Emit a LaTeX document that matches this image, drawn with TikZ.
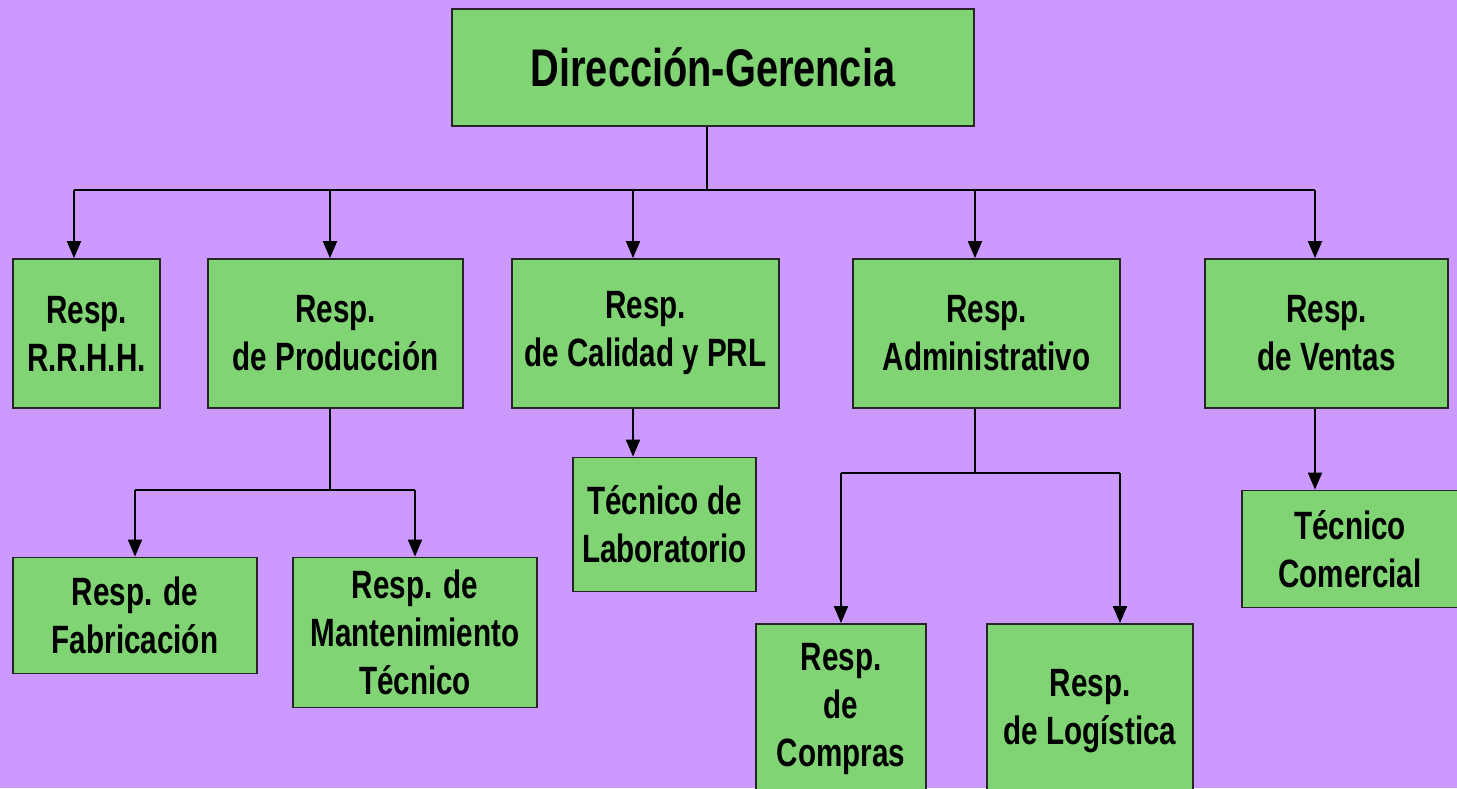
\documentclass[tikz,border=0pt]{standalone}
\usepackage{fontspec}
\setmainfont{Liberation Sans}[FakeStretch=0.75]
\usetikzlibrary{arrows.meta}
\definecolor{ccc99ff}{RGB}{204,153,255}
\definecolor{c80d474}{RGB}{128,212,116}
\tikzset{
  unit/.style={draw=black!85, fill=c80d474, line width=1.8pt, inner sep=0pt,
    align=center, font=\fontsize{39.5}{48}\selectfont\bfseries},
  link/.style={draw=black, line width=1.9pt},
  arr/.style={link, -{Triangle[length=17pt,width=14pt]}}
}

\begin{document}
\begin{tikzpicture}[x=1pt, y=-1pt]
  \useasboundingbox (0,0) rectangle (1457,788);
  \clip (0,0) rectangle (1457,788);
  \fill[ccc99ff] (0,0) rectangle (1457,788);
  % boxes
  \node[unit, minimum width=522pt, minimum height=117pt,
    font=\fontsize{53}{60}\selectfont\bfseries] (dg) at (713,67.5) {Dirección-Gerencia};
  \node[unit, minimum width=147pt, minimum height=149pt] (rrhh) at (86.5,333.5) {Resp.\\R.R.H.H.};
  \node[unit, minimum width=255pt, minimum height=149pt] (prod) at (335.5,333.5) {Resp.\\de Producción};
  \node[unit, minimum width=267pt, minimum height=149pt] (cal) at (645.5,333.5) {Resp.\\de Calidad y PRL};
  \node[unit, minimum width=267pt, minimum height=149pt] (adm) at (986.5,333.5) {Resp.\\Administrativo};
  \node[unit, minimum width=243pt, minimum height=149pt] (ven) at (1326.5,333.5) {Resp.\\de Ventas};
  \node[unit, minimum width=183pt, minimum height=134pt] (lab) at (664.5,524.5) {Técnico de\\Laboratorio};
  \node[unit, minimum width=244pt, minimum height=116pt] (fab) at (135,615.5) {Resp. de\\Fabricación};
  \node[unit, minimum width=244pt, minimum height=150pt] (mant) at (415,632.5) {Resp. de\\Mantenimiento\\Técnico};
  \node[unit, minimum width=170pt, minimum height=170pt] (comp) at (841,709) {Resp.\\de\\Compras};
  \node[unit, minimum width=206pt, minimum height=174pt] (log) at (1090,711) {Resp.\\de Logística};
  \node[unit, minimum width=216pt, minimum height=117pt] (com) at (1350,549) {Técnico\\Comercial};
  % first level
  \coordinate (hub) at (707,190);
  \coordinate (t1) at (74,190);
  \coordinate (t2) at (330,190);
  \coordinate (t3) at (633,190);
  \coordinate (t4) at (975,190);
  \coordinate (t5) at (1315,190);
  \draw[link] (hub |- dg.south) -- (hub);
  \draw[link] (t1) -- (t5);
  \draw[arr] (t1) -- (t1 |- rrhh.north);
  \draw[arr] (t2) -- (t2 |- prod.north);
  \draw[arr] (t3) -- (t3 |- cal.north);
  \draw[arr] (t4) -- (t4 |- adm.north);
  \draw[arr] (t5) -- (t5 |- ven.north);
  % produccion
  \coordinate (p0) at (330,490);
  \coordinate (p1) at (135,490);
  \coordinate (p2) at (415,490);
  \draw[link] (p0 |- prod.south) -- (p0);
  \draw[link] (p1) -- (p2);
  \draw[arr] (p1) -- (p1 |- fab.north);
  \draw[arr] (p2) -- (p2 |- mant.north);
  % calidad
  \draw[arr] (t3 |- cal.south) -- (t3 |- lab.north);
  % administrativo
  \coordinate (a0) at (975,473);
  \coordinate (a1) at (841,473);
  \coordinate (a2) at (1120,473);
  \draw[link] (a0 |- adm.south) -- (a0);
  \draw[link] (a1) -- (a2);
  \draw[arr] (a1) -- (a1 |- comp.north);
  \draw[arr] (a2) -- (a2 |- log.north);
  % ventas
  \draw[arr] (t5 |- ven.south) -- (t5 |- com.north);
\end{tikzpicture}
\end{document}
